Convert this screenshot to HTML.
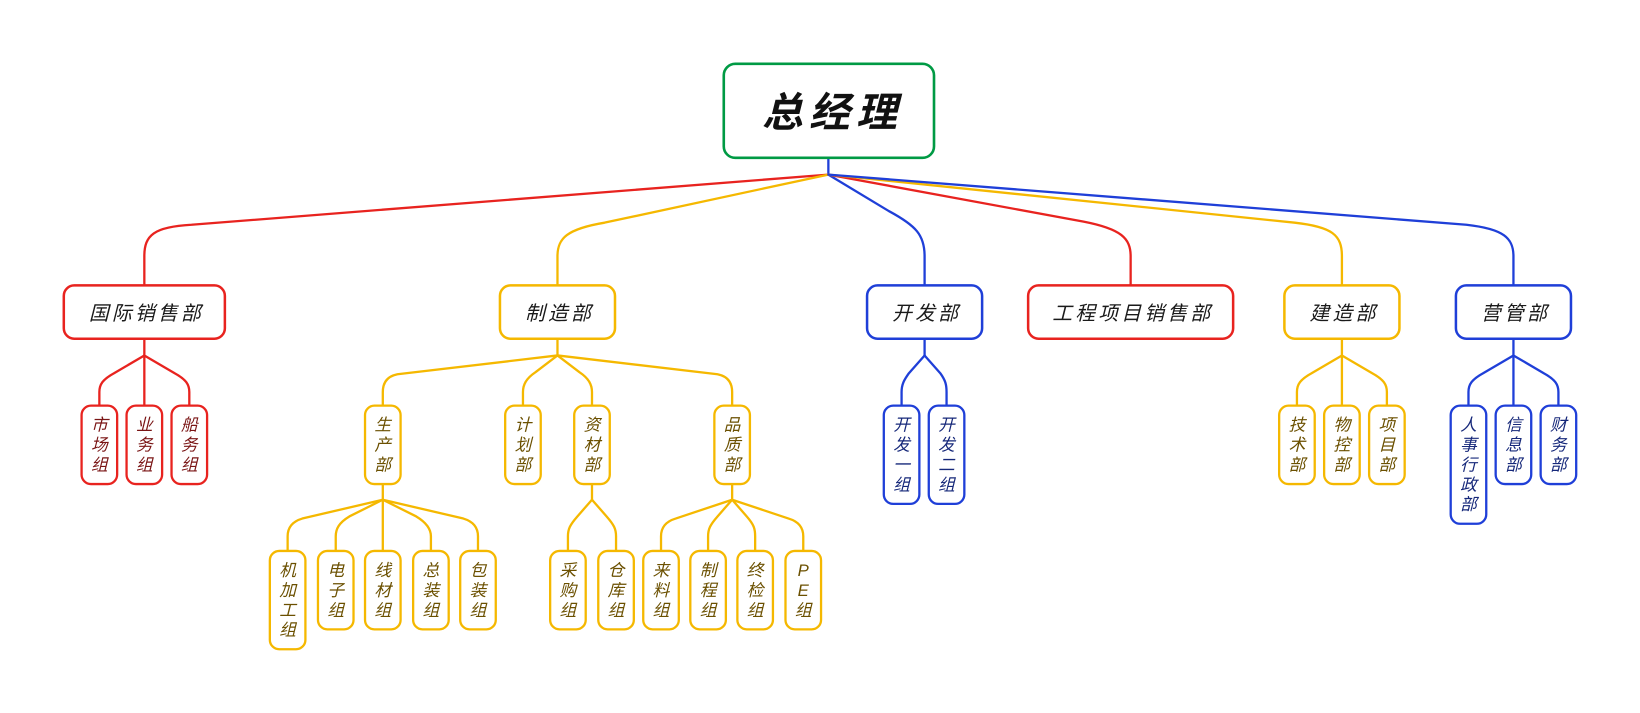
<!DOCTYPE html>
<html><head><meta charset="utf-8"><style>
html,body{margin:0;padding:0;background:#fff;}
svg{display:block;}
text{font-family:"Liberation Sans","Noto Sans CJK SC",sans-serif;font-style:italic;}
</style></head><body>
<svg width="1640" height="713" viewBox="0 0 1568 682" preserveAspectRatio="none" xmlns="http://www.w3.org/2000/svg">
<g fill="none" stroke-width="2.2" stroke-linecap="round" stroke-linejoin="round">
<path stroke="#1f3fd8" d="M792 151 V167"/>
<path stroke="#e8231f" d="M792 167 L183 215 C147 217 138 225 138 245 V273"/>
<path stroke="#f5b800" d="M792 167 L578 213 C542 219 533 228 533 245 V273"/>
<path stroke="#1f3fd8" d="M792 167 L850 202 C876 216 884 225 884 245 V273"/>
<path stroke="#e8231f" d="M792 167 L1036 212 C1072 219 1081 228 1081 245 V273"/>
<path stroke="#f5b800" d="M792 167 L1238 213 C1274 217 1283 225 1283 245 V273"/>
<path stroke="#1f3fd8" d="M792 167 L1402 215 C1438 219 1447 228 1447 245 V273"/>
<g stroke="#e8231f">
<path d="M138 324 V340"/>
<path d="M138 340 L109 357 C98 363 95 368 95 375 V388"/>
<path d="M138 340 V388"/>
<path d="M138 340 L167 357 C178 363 181 368 181 375 V388"/>
</g>
<g stroke="#f5b800">
<path d="M533 324 V340"/>
<path d="M533 340 L380 358 C370 360 366 366 366 375 V388"/>
<path d="M533 340 L512 356 C503 362 500 368 500 375 V388"/>
<path d="M533 340 L554 356 C563 362 566 368 566 375 V388"/>
<path d="M533 340 L686 358 C696 360 700 366 700 375 V388"/>
<path d="M366 463 V478"/>
<path d="M366 478 L289 496 C279 499 275 505 275 513 V527"/>
<path d="M366 478 L334 494 C324 500 321 506 321 513 V527"/>
<path d="M366 478 V527"/>
<path d="M366 478 L398 494 C408 500 412 506 412 513 V527"/>
<path d="M366 478 L443 496 C453 499 457 505 457 513 V527"/>
<path d="M566 463 V478"/>
<path d="M566 478 L552 494 C545 502 543 506 543 513 V527"/>
<path d="M566 478 L580 494 C587 502 589 506 589 513 V527"/>
<path d="M700 463 V478"/>
<path d="M700 478 L646 496 C636 499 632 505 632 513 V527"/>
<path d="M700 478 L686 494 C679 502 677 506 677 513 V527"/>
<path d="M700 478 L714 494 C721 502 722 506 722 513 V527"/>
<path d="M700 478 L754 496 C764 499 768 505 768 513 V527"/>
</g>
<g stroke="#1f3fd8">
<path d="M884 324 V340"/>
<path d="M884 340 L869 357 C864 364 862 368 862 375 V388"/>
<path d="M884 340 L899 357 C904 364 905 368 905 375 V388"/>
</g>
<g stroke="#f5b800">
<path d="M1283 324 V340"/>
<path d="M1283 340 L1254 357 C1243 363 1240 368 1240 375 V388"/>
<path d="M1283 340 V388"/>
<path d="M1283 340 L1312 357 C1323 363 1326 368 1326 375 V388"/>
</g>
<g stroke="#1f3fd8">
<path d="M1447 324 V340"/>
<path d="M1447 340 L1418 357 C1407 363 1404 368 1404 375 V388"/>
<path d="M1447 340 V388"/>
<path d="M1447 340 L1476 357 C1487 363 1490 368 1490 375 V388"/>
</g>
</g>

<rect x="692" y="61" width="201" height="90" rx="11" fill="#fff" stroke="#009a44" stroke-width="2.5"/>
<text x="796" y="121" font-size="39" font-weight="bold" text-anchor="middle" fill="#111" letter-spacing="6">总经理</text>

<g stroke-width="2.4" fill="#fff">
<rect x="61" y="273" width="154" height="51" rx="10" stroke="#e8231f"/>
<rect x="478" y="273" width="110" height="51" rx="10" stroke="#f5b800"/>
<rect x="829" y="273" width="110" height="51" rx="10" stroke="#1f3fd8"/>
<rect x="983" y="273" width="196" height="51" rx="10" stroke="#e8231f"/>
<rect x="1228" y="273" width="110" height="51" rx="10" stroke="#f5b800"/>
<rect x="1392" y="273" width="110" height="51" rx="10" stroke="#1f3fd8"/>
</g>
<g font-size="19" text-anchor="middle" fill="#1a1a1a" letter-spacing="3">
<text x="140" y="306">国际销售部</text>
<text x="535" y="306">制造部</text>
<text x="886" y="306">开发部</text>
<text x="1083" y="306">工程项目销售部</text>
<text x="1285" y="306">建造部</text>
<text x="1449" y="306">营管部</text>
</g>

<g stroke-width="2.2" fill="#fff">
<g stroke="#e8231f">
<rect x="78" y="388" width="34" height="75" rx="9"/>
<rect x="121" y="388" width="34" height="75" rx="9"/>
<rect x="164" y="388" width="34" height="75" rx="9"/>
</g>
<g stroke="#f5b800">
<rect x="349" y="388" width="34" height="75" rx="9"/>
<rect x="483" y="388" width="34" height="75" rx="9"/>
<rect x="549" y="388" width="34" height="75" rx="9"/>
<rect x="683" y="388" width="34" height="75" rx="9"/>
<rect x="258" y="527" width="34" height="94" rx="9"/>
<rect x="304" y="527" width="34" height="75" rx="9"/>
<rect x="349" y="527" width="34" height="75" rx="9"/>
<rect x="395" y="527" width="34" height="75" rx="9"/>
<rect x="440" y="527" width="34" height="75" rx="9"/>
<rect x="526" y="527" width="34" height="75" rx="9"/>
<rect x="572" y="527" width="34" height="75" rx="9"/>
<rect x="615" y="527" width="34" height="75" rx="9"/>
<rect x="660" y="527" width="34" height="75" rx="9"/>
<rect x="705" y="527" width="34" height="75" rx="9"/>
<rect x="751" y="527" width="34" height="75" rx="9"/>
<rect x="1223" y="388" width="34" height="75" rx="9"/>
<rect x="1266" y="388" width="34" height="75" rx="9"/>
<rect x="1309" y="388" width="34" height="75" rx="9"/>
</g>
<g stroke="#1f3fd8">
<rect x="845" y="388" width="34" height="94" rx="9"/>
<rect x="888" y="388" width="34" height="94" rx="9"/>
<rect x="1387" y="388" width="34" height="113" rx="9"/>
<rect x="1430" y="388" width="34" height="75" rx="9"/>
<rect x="1473" y="388" width="34" height="75" rx="9"/>
</g>
</g>

<g font-size="16" text-anchor="middle">
<g fill="#7a1515">
<text x="95" y="412">市<tspan x="95" dy="19">场</tspan><tspan x="95" dy="19">组</tspan></text>
<text x="138" y="412">业<tspan x="138" dy="19">务</tspan><tspan x="138" dy="19">组</tspan></text>
<text x="181" y="412">船<tspan x="181" dy="19">务</tspan><tspan x="181" dy="19">组</tspan></text>
</g>
<g fill="#6b5000">
<text x="366" y="412">生<tspan x="366" dy="19">产</tspan><tspan x="366" dy="19">部</tspan></text>
<text x="500" y="412">计<tspan x="500" dy="19">划</tspan><tspan x="500" dy="19">部</tspan></text>
<text x="566" y="412">资<tspan x="566" dy="19">材</tspan><tspan x="566" dy="19">部</tspan></text>
<text x="700" y="412">品<tspan x="700" dy="19">质</tspan><tspan x="700" dy="19">部</tspan></text>
<text x="275" y="551">机<tspan x="275" dy="19">加</tspan><tspan x="275" dy="19">工</tspan><tspan x="275" dy="19">组</tspan></text>
<text x="321" y="551">电<tspan x="321" dy="19">子</tspan><tspan x="321" dy="19">组</tspan></text>
<text x="366" y="551">线<tspan x="366" dy="19">材</tspan><tspan x="366" dy="19">组</tspan></text>
<text x="412" y="551">总<tspan x="412" dy="19">装</tspan><tspan x="412" dy="19">组</tspan></text>
<text x="457" y="551">包<tspan x="457" dy="19">装</tspan><tspan x="457" dy="19">组</tspan></text>
<text x="543" y="551">采<tspan x="543" dy="19">购</tspan><tspan x="543" dy="19">组</tspan></text>
<text x="589" y="551">仓<tspan x="589" dy="19">库</tspan><tspan x="589" dy="19">组</tspan></text>
<text x="632" y="551">来<tspan x="632" dy="19">料</tspan><tspan x="632" dy="19">组</tspan></text>
<text x="677" y="551">制<tspan x="677" dy="19">程</tspan><tspan x="677" dy="19">组</tspan></text>
<text x="722" y="551">终<tspan x="722" dy="19">检</tspan><tspan x="722" dy="19">组</tspan></text>
<text x="768" y="551">P<tspan x="768" dy="19">E</tspan><tspan x="768" dy="19">组</tspan></text>
<text x="1240" y="412">技<tspan x="1240" dy="19">术</tspan><tspan x="1240" dy="19">部</tspan></text>
<text x="1283" y="412">物<tspan x="1283" dy="19">控</tspan><tspan x="1283" dy="19">部</tspan></text>
<text x="1326" y="412">项<tspan x="1326" dy="19">目</tspan><tspan x="1326" dy="19">部</tspan></text>
</g>
<g fill="#16287a">
<text x="862" y="412">开<tspan x="862" dy="19">发</tspan><tspan x="862" dy="19">一</tspan><tspan x="862" dy="19">组</tspan></text>
<text x="905" y="412">开<tspan x="905" dy="19">发</tspan><tspan x="905" dy="19">二</tspan><tspan x="905" dy="19">组</tspan></text>
<text x="1404" y="412">人<tspan x="1404" dy="19">事</tspan><tspan x="1404" dy="19">行</tspan><tspan x="1404" dy="19">政</tspan><tspan x="1404" dy="19">部</tspan></text>
<text x="1447" y="412">信<tspan x="1447" dy="19">息</tspan><tspan x="1447" dy="19">部</tspan></text>
<text x="1490" y="412">财<tspan x="1490" dy="19">务</tspan><tspan x="1490" dy="19">部</tspan></text>
</g>
</g>
</svg>
</body></html>
